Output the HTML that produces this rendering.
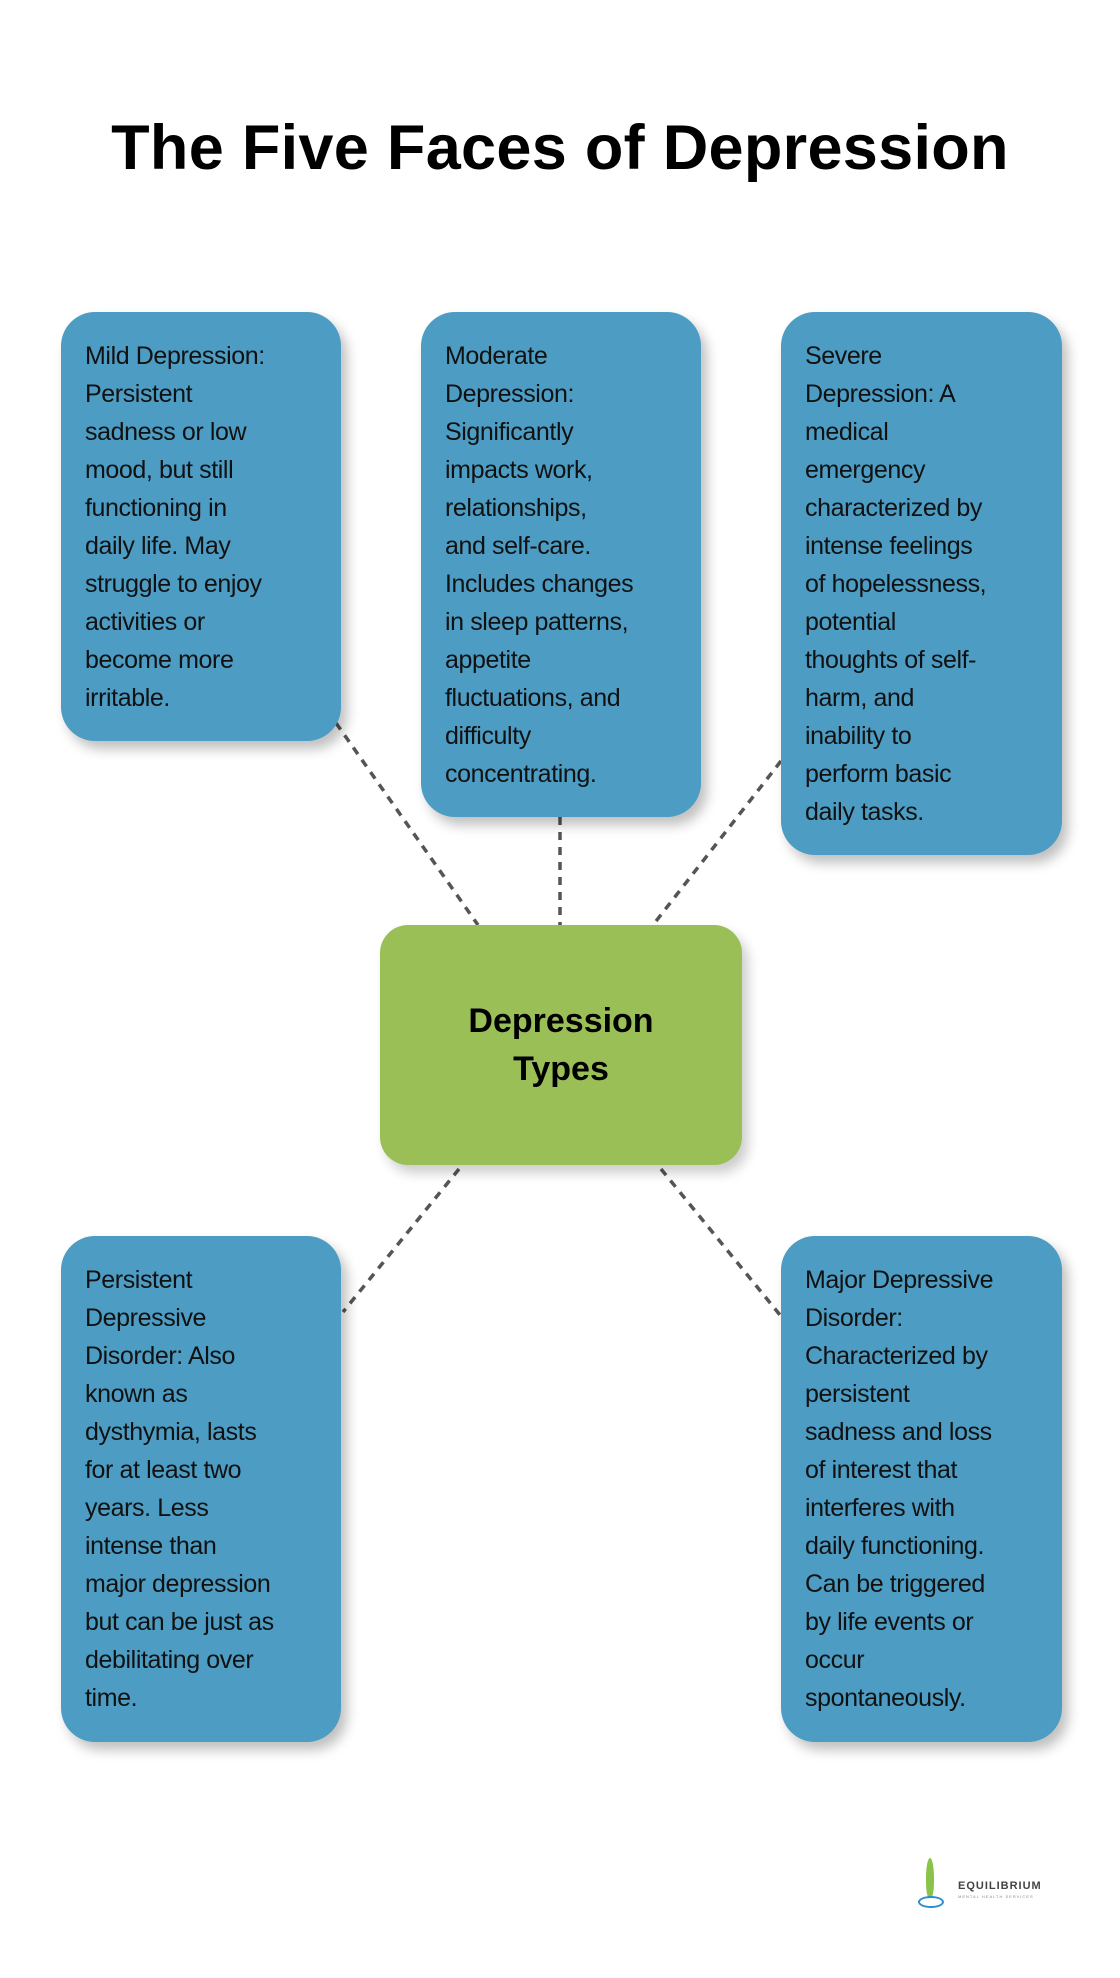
<!DOCTYPE html>
<html><head><meta charset="utf-8"><style>
body{margin:0;width:1120px;height:1978px;background:#fff;position:relative;font-family:"Liberation Sans",sans-serif;overflow:hidden}
h1{position:absolute;top:112px;left:0;width:1120px;text-align:center;margin:0;font-size:63px;font-weight:bold;color:#000;letter-spacing:0.3px}
.b{position:absolute;background:#4c9cc3;border-radius:34px;box-shadow:6px 8px 12px rgba(0,0,0,0.25);color:#111;font-size:25px;line-height:38px;padding:25px 0 0 24px;box-sizing:border-box;white-space:nowrap;letter-spacing:-0.4px}
.c{position:absolute;left:380px;top:925px;width:362px;height:240px;background:#9abf57;border-radius:28px;box-shadow:6px 8px 12px rgba(0,0,0,0.2);display:flex;align-items:center;justify-content:center;text-align:center;font-weight:bold;font-size:34px;line-height:48px;color:#000}
svg{position:absolute;left:0;top:0}
</style></head><body>
<h1>The Five Faces of Depression</h1>
<svg width="1120" height="1978"><g stroke="#555" stroke-width="3.5" stroke-dasharray="8,7" fill="none">
<line x1="336" y1="723" x2="478" y2="925"/><line x1="560" y1="817" x2="560" y2="925"/><line x1="781" y1="761" x2="653" y2="925"/>
<line x1="459" y1="1169" x2="343" y2="1312"/><line x1="661" y1="1169" x2="780" y2="1315"/></g></svg>
<div class="b" style="left:61px;top:312px;width:280px;height:429px">Mild Depression:<br>Persistent<br>sadness or low<br>mood, but still<br>functioning in<br>daily life. May<br>struggle to enjoy<br>activities or<br>become more<br>irritable.</div>
<div class="b" style="left:421px;top:312px;width:280px;height:505px">Moderate<br>Depression:<br>Significantly<br>impacts work,<br>relationships,<br>and self-care.<br>Includes changes<br>in sleep patterns,<br>appetite<br>fluctuations, and<br>difficulty<br>concentrating.</div>
<div class="b" style="left:781px;top:312px;width:281px;height:543px">Severe<br>Depression: A<br>medical<br>emergency<br>characterized by<br>intense feelings<br>of hopelessness,<br>potential<br>thoughts of self-<br>harm, and<br>inability to<br>perform basic<br>daily tasks.</div>
<div class="c">Depression<br>Types</div>
<div class="b" style="left:61px;top:1236px;width:280px;height:506px">Persistent<br>Depressive<br>Disorder: Also<br>known as<br>dysthymia, lasts<br>for at least two<br>years. Less<br>intense than<br>major depression<br>but can be just as<br>debilitating over<br>time.</div>
<div class="b" style="left:781px;top:1236px;width:281px;height:506px">Major Depressive<br>Disorder:<br>Characterized by<br>persistent<br>sadness and loss<br>of interest that<br>interferes with<br>daily functioning.<br>Can be triggered<br>by life events or<br>occur<br>spontaneously.</div>
<div style="position:absolute;left:918px;top:1858px;width:22px;height:50px">
<div style="position:absolute;left:8px;top:0;width:8px;height:40px;background:#8bc34a;border-radius:50% 50% 40% 40%"></div>
<div style="position:absolute;left:0;top:38px;width:22px;height:8px;border:2px solid #2a8fc9;border-radius:50%"></div></div>
<div style="position:absolute;left:958px;top:1880px;font-size:11px;font-weight:bold;color:#444;letter-spacing:1px">EQUILIBRIUM</div>
<div style="position:absolute;left:958px;top:1894px;font-size:4px;color:#888;letter-spacing:1px">MENTAL HEALTH SERVICES</div>
</body></html>
